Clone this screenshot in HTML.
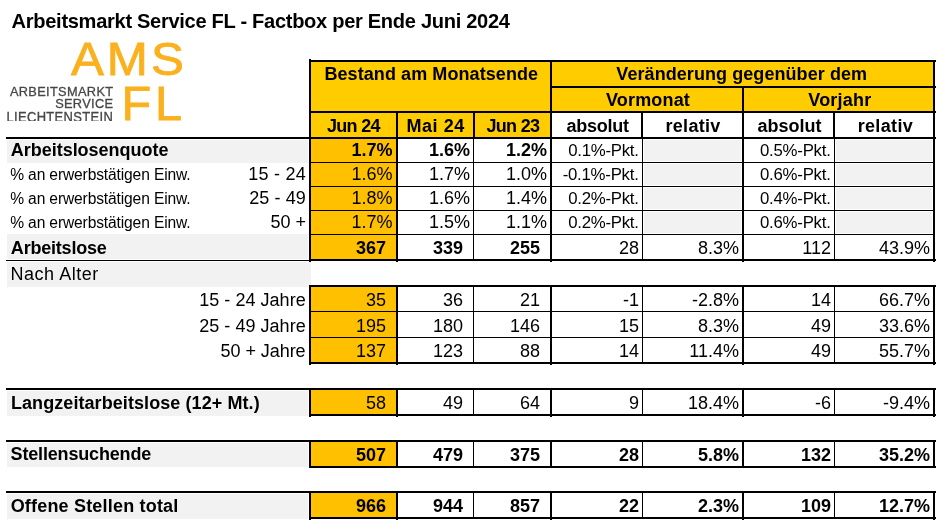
<!DOCTYPE html>
<html lang="de">
<head>
<meta charset="utf-8">
<title>Arbeitsmarkt Service FL - Factbox per Ende Juni 2024</title>
<style>
html,body{margin:0;padding:0;background:#fff}
body{width:945px;height:529px;position:relative;overflow:hidden;font-family:"Liberation Sans", sans-serif;color:#000}
.f,.l,.t{position:absolute;display:block}
.l{background:#000}
.t{white-space:pre;line-height:24px;height:24px;margin:0;font-weight:400}
.b{font-weight:700}
.logo{position:absolute;left:0;top:34px;width:200px;height:87px;overflow:hidden}
.logo span{position:absolute;display:block;white-space:pre;line-height:1}
.lg{color:#FBB01E;font-size:47px;-webkit-text-stroke:0.8px #FBB01E;transform-origin:0 0}
.ls{color:#474749;font-size:12.8px;right:86.6px;text-align:right;letter-spacing:0.33px;-webkit-text-stroke:0.3px #474749}
</style>
</head>
<body>
<div class="f" style="left:311px;top:62px;width:239px;height:49px;background:#FFCC00"></div>
<div class="f" style="left:552px;top:62px;width:381px;height:24px;background:#FFCC00"></div>
<div class="f" style="left:552px;top:88px;width:190px;height:23px;background:#FFCC00"></div>
<div class="f" style="left:744px;top:88px;width:189px;height:23px;background:#FFCC00"></div>
<div class="f" style="left:311px;top:113px;width:239px;height:24px;background:#FFCC00"></div>
<div class="f" style="left:311px;top:139px;width:85px;height:120px;background:#FFC000"></div>
<div class="f" style="left:311px;top:287px;width:85px;height:75px;background:#FFC000"></div>
<div class="f" style="left:311px;top:390px;width:85px;height:24px;background:#FFC000"></div>
<div class="f" style="left:311px;top:442px;width:85px;height:24px;background:#FFC000"></div>
<div class="f" style="left:311px;top:493px;width:85px;height:24px;background:#FFC000"></div>
<div class="f" style="left:7px;top:140px;width:301px;height:23px;background:#F2F2F2"></div>
<div class="f" style="left:7px;top:234px;width:301px;height:25px;background:#F2F2F2"></div>
<div class="f" style="left:7px;top:262px;width:304px;height:25px;background:#F2F2F2"></div>
<div class="f" style="left:7px;top:391px;width:301px;height:25px;background:#F2F2F2"></div>
<div class="f" style="left:7px;top:443px;width:301px;height:24px;background:#F2F2F2"></div>
<div class="f" style="left:7px;top:494px;width:301px;height:25px;background:#F2F2F2"></div>
<div class="f" style="left:644px;top:140px;width:97px;height:21px;background:#F2F2F2"></div>
<div class="f" style="left:836px;top:140px;width:96px;height:21px;background:#F2F2F2"></div>
<div class="f" style="left:644px;top:164px;width:97px;height:21px;background:#F2F2F2"></div>
<div class="f" style="left:836px;top:164px;width:96px;height:21px;background:#F2F2F2"></div>
<div class="f" style="left:644px;top:188px;width:97px;height:21px;background:#F2F2F2"></div>
<div class="f" style="left:836px;top:188px;width:96px;height:21px;background:#F2F2F2"></div>
<div class="f" style="left:644px;top:212px;width:97px;height:21px;background:#F2F2F2"></div>
<div class="f" style="left:836px;top:212px;width:96px;height:21px;background:#F2F2F2"></div>
<div class="l" style="left:309px;top:60px;width:627px;height:2px"></div>
<div class="l" style="left:550px;top:86px;width:386px;height:2px"></div>
<div class="l" style="left:309px;top:111px;width:627px;height:2px"></div>
<div class="l" style="left:6px;top:137px;width:930px;height:2px"></div>
<div class="l" style="left:311px;top:162px;width:623px;height:1px"></div>
<div class="l" style="left:311px;top:186px;width:623px;height:1px"></div>
<div class="l" style="left:311px;top:210px;width:623px;height:1px"></div>
<div class="l" style="left:311px;top:234px;width:623px;height:1px"></div>
<div class="l" style="left:309px;top:259px;width:627px;height:2px"></div>
<div class="l" style="left:6px;top:260px;width:304px;height:1px"></div>
<div class="l" style="left:309px;top:285px;width:627px;height:2px"></div>
<div class="l" style="left:311px;top:311px;width:623px;height:1px"></div>
<div class="l" style="left:311px;top:337px;width:623px;height:1px"></div>
<div class="l" style="left:309px;top:362px;width:627px;height:2px"></div>
<div class="l" style="left:6px;top:388px;width:930px;height:2px"></div>
<div class="l" style="left:309px;top:414px;width:627px;height:2px"></div>
<div class="l" style="left:6px;top:440px;width:930px;height:2px"></div>
<div class="l" style="left:309px;top:466px;width:627px;height:2px"></div>
<div class="l" style="left:6px;top:491px;width:930px;height:2px"></div>
<div class="l" style="left:309px;top:517px;width:627px;height:2px"></div>
<div class="l" style="left:309px;top:59px;width:2px;height:203px"></div>
<div class="l" style="left:933px;top:60px;width:2px;height:202px"></div>
<div class="l" style="left:396px;top:111px;width:2px;height:151px"></div>
<div class="l" style="left:550px;top:60px;width:2px;height:202px"></div>
<div class="l" style="left:742px;top:86px;width:2px;height:176px"></div>
<div class="l" style="left:473px;top:139px;width:1px;height:122px"></div>
<div class="l" style="left:642px;top:139px;width:1px;height:122px"></div>
<div class="l" style="left:834px;top:139px;width:1px;height:122px"></div>
<div class="l" style="left:309px;top:285px;width:2px;height:80px"></div>
<div class="l" style="left:933px;top:285px;width:2px;height:80px"></div>
<div class="l" style="left:396px;top:285px;width:2px;height:80px"></div>
<div class="l" style="left:550px;top:285px;width:2px;height:80px"></div>
<div class="l" style="left:742px;top:285px;width:2px;height:80px"></div>
<div class="l" style="left:473px;top:285px;width:1px;height:79px"></div>
<div class="l" style="left:642px;top:285px;width:1px;height:79px"></div>
<div class="l" style="left:834px;top:285px;width:1px;height:79px"></div>
<div class="l" style="left:309px;top:388px;width:2px;height:29px"></div>
<div class="l" style="left:933px;top:388px;width:2px;height:29px"></div>
<div class="l" style="left:396px;top:388px;width:2px;height:29px"></div>
<div class="l" style="left:550px;top:388px;width:2px;height:29px"></div>
<div class="l" style="left:742px;top:388px;width:2px;height:29px"></div>
<div class="l" style="left:473px;top:388px;width:1px;height:28px"></div>
<div class="l" style="left:642px;top:388px;width:1px;height:28px"></div>
<div class="l" style="left:834px;top:388px;width:1px;height:28px"></div>
<div class="l" style="left:309px;top:440px;width:2px;height:28px"></div>
<div class="l" style="left:933px;top:440px;width:2px;height:28px"></div>
<div class="l" style="left:396px;top:440px;width:2px;height:28px"></div>
<div class="l" style="left:550px;top:440px;width:2px;height:28px"></div>
<div class="l" style="left:742px;top:440px;width:2px;height:28px"></div>
<div class="l" style="left:473px;top:440px;width:1px;height:28px"></div>
<div class="l" style="left:642px;top:440px;width:1px;height:28px"></div>
<div class="l" style="left:834px;top:440px;width:1px;height:28px"></div>
<div class="l" style="left:309px;top:491px;width:2px;height:29px"></div>
<div class="l" style="left:933px;top:491px;width:2px;height:29px"></div>
<div class="l" style="left:396px;top:491px;width:2px;height:29px"></div>
<div class="l" style="left:550px;top:491px;width:2px;height:29px"></div>
<div class="l" style="left:742px;top:491px;width:2px;height:29px"></div>
<div class="l" style="left:473px;top:491px;width:1px;height:28px"></div>
<div class="l" style="left:642px;top:491px;width:1px;height:28px"></div>
<div class="l" style="left:834px;top:491px;width:1px;height:28px"></div>
<div class="l" style="left:473px;top:111px;width:2px;height:28px"></div>
<div class="l" style="left:641px;top:111px;width:2px;height:28px"></div>
<div class="l" style="left:833px;top:111px;width:2px;height:28px"></div>
<div class="logo">
<span class="lg" style="left:70.8px;top:0.5px;letter-spacing:2.8px;transform:scaleX(1.05)">AMS</span>
<span class="lg" style="left:121.4px;top:44.6px;letter-spacing:4px;font-size:48.6px">FL</span>
<span class="ls" style="top:51.9px">ARBEITSMARKT</span>
<span class="ls" style="top:63.9px">SERVICE</span>
<span class="ls" style="top:77.2px;transform-origin:100% 0;transform:scale(1.015,1.1)">LIECHTENSTEIN</span>
</div>
<span class="t b" style="left:11.60px;top:8.98px;font-size:20.07px;letter-spacing:-0.30px;">Arbeitsmarkt Service FL - Factbox per Ende Juni 2024</span>
<span class="t b" style="left:324.42px;top:61.95px;font-size:18.00px;letter-spacing:0.08px;">Bestand am Monatsende</span>
<span class="t b" style="left:616.33px;top:61.95px;font-size:18.00px;letter-spacing:0.07px;">Veränderung gegenüber dem</span>
<span class="t b" style="left:605.97px;top:87.95px;font-size:18.00px;letter-spacing:0.17px;">Vormonat</span>
<span class="t b" style="left:808.23px;top:87.95px;font-size:18.00px;letter-spacing:0.24px;">Vorjahr</span>
<span class="t b" style="left:326.88px;top:113.95px;font-size:18.00px;letter-spacing:-0.68px;">Jun 24</span>
<span class="t b" style="left:406.48px;top:113.95px;font-size:18.00px;letter-spacing:0.56px;">Mai 24</span>
<span class="t b" style="left:486.49px;top:113.95px;font-size:18.00px;letter-spacing:-0.70px;">Jun 23</span>
<span class="t b" style="left:566.38px;top:113.95px;font-size:18.00px;letter-spacing:-0.23px;">absolut</span>
<span class="t b" style="left:665.48px;top:113.95px;font-size:18.00px;letter-spacing:0.30px;">relativ</span>
<span class="t b" style="left:757.49px;top:113.95px;font-size:18.00px;">absolut</span>
<span class="t b" style="left:857.66px;top:113.95px;font-size:18.00px;letter-spacing:0.34px;">relativ</span>
<span class="t b" style="left:10.75px;top:137.95px;font-size:18.00px;letter-spacing:-0.02px;">Arbeitslosenquote</span>
<span class="t b" style="left:351.47px;top:137.95px;font-size:18.00px;">1.7%</span>
<span class="t b" style="left:428.97px;top:137.95px;font-size:18.00px;">1.6%</span>
<span class="t b" style="left:505.97px;top:137.95px;font-size:18.00px;">1.2%</span>
<span class="t" style="left:568.18px;top:138.99px;font-size:16.80px;letter-spacing:-0.26px;">0.1%-Pkt.</span>
<span class="t" style="left:760.02px;top:138.99px;font-size:16.80px;letter-spacing:-0.24px;">0.5%-Pkt.</span>
<span class="t" style="left:10.20px;top:163.03px;font-size:15.60px;letter-spacing:-0.14px;">% an erwerbstätigen Einw.</span>
<span class="t" style="left:248.36px;top:161.95px;font-size:18.00px;letter-spacing:0.24px;">15 - 24</span>
<span class="t" style="left:351.47px;top:161.95px;font-size:18.00px;">1.6%</span>
<span class="t" style="left:428.97px;top:161.95px;font-size:18.00px;">1.7%</span>
<span class="t" style="left:505.97px;top:161.95px;font-size:18.00px;">1.0%</span>
<span class="t" style="left:562.67px;top:162.99px;font-size:16.80px;letter-spacing:-0.24px;">-0.1%-Pkt.</span>
<span class="t" style="left:760.02px;top:162.99px;font-size:16.80px;letter-spacing:-0.24px;">0.6%-Pkt.</span>
<span class="t" style="left:10.20px;top:187.03px;font-size:15.60px;letter-spacing:-0.14px;">% an erwerbstätigen Einw.</span>
<span class="t" style="left:249.27px;top:185.95px;font-size:18.00px;letter-spacing:0.09px;">25 - 49</span>
<span class="t" style="left:351.47px;top:185.95px;font-size:18.00px;">1.8%</span>
<span class="t" style="left:428.97px;top:185.95px;font-size:18.00px;">1.6%</span>
<span class="t" style="left:505.97px;top:185.95px;font-size:18.00px;">1.4%</span>
<span class="t" style="left:568.18px;top:186.99px;font-size:16.80px;letter-spacing:-0.26px;">0.2%-Pkt.</span>
<span class="t" style="left:760.02px;top:186.99px;font-size:16.80px;letter-spacing:-0.24px;">0.4%-Pkt.</span>
<span class="t" style="left:10.20px;top:211.03px;font-size:15.60px;letter-spacing:-0.14px;">% an erwerbstätigen Einw.</span>
<span class="t" style="left:270.45px;top:209.95px;font-size:18.00px;">50 +</span>
<span class="t" style="left:351.47px;top:209.95px;font-size:18.00px;">1.7%</span>
<span class="t" style="left:428.97px;top:209.95px;font-size:18.00px;">1.5%</span>
<span class="t" style="left:505.97px;top:209.95px;font-size:18.00px;">1.1%</span>
<span class="t" style="left:568.18px;top:210.99px;font-size:16.80px;letter-spacing:-0.26px;">0.2%-Pkt.</span>
<span class="t" style="left:760.02px;top:210.99px;font-size:16.80px;letter-spacing:-0.24px;">0.6%-Pkt.</span>
<span class="t b" style="left:10.85px;top:235.95px;font-size:18.00px;letter-spacing:-0.21px;">Arbeitslose</span>
<span class="t b" style="left:355.95px;top:235.95px;font-size:18.00px;">367</span>
<span class="t b" style="left:432.95px;top:235.95px;font-size:18.00px;">339</span>
<span class="t b" style="left:509.95px;top:235.95px;font-size:18.00px;">255</span>
<span class="t" style="left:618.97px;top:235.95px;font-size:18.00px;">28</span>
<span class="t" style="left:697.97px;top:235.95px;font-size:18.00px;">8.3%</span>
<span class="t" style="left:802.30px;top:235.95px;font-size:18.00px;">112</span>
<span class="t" style="left:878.95px;top:235.95px;font-size:18.00px;">43.9%</span>
<span class="t" style="left:10.45px;top:261.95px;font-size:18.00px;letter-spacing:0.54px;">Nach Alter</span>
<span class="t" style="left:199.26px;top:287.95px;font-size:18.00px;letter-spacing:0.03px;">15 - 24 Jahre</span>
<span class="t" style="left:365.97px;top:287.95px;font-size:18.00px;">35</span>
<span class="t" style="left:442.97px;top:287.95px;font-size:18.00px;">36</span>
<span class="t" style="left:519.97px;top:287.95px;font-size:18.00px;">21</span>
<span class="t" style="left:622.98px;top:287.95px;font-size:18.00px;">-1</span>
<span class="t" style="left:691.97px;top:287.95px;font-size:18.00px;">-2.8%</span>
<span class="t" style="left:810.97px;top:287.95px;font-size:18.00px;">14</span>
<span class="t" style="left:878.95px;top:287.95px;font-size:18.00px;">66.7%</span>
<span class="t" style="left:199.26px;top:313.95px;font-size:18.00px;letter-spacing:0.03px;">25 - 49 Jahre</span>
<span class="t" style="left:355.95px;top:313.95px;font-size:18.00px;">195</span>
<span class="t" style="left:432.95px;top:313.95px;font-size:18.00px;">180</span>
<span class="t" style="left:509.95px;top:313.95px;font-size:18.00px;">146</span>
<span class="t" style="left:618.97px;top:313.95px;font-size:18.00px;">15</span>
<span class="t" style="left:697.97px;top:313.95px;font-size:18.00px;">8.3%</span>
<span class="t" style="left:810.97px;top:313.95px;font-size:18.00px;">49</span>
<span class="t" style="left:878.95px;top:313.95px;font-size:18.00px;">33.6%</span>
<span class="t" style="left:220.62px;top:338.95px;font-size:18.00px;letter-spacing:-0.06px;">50 + Jahre</span>
<span class="t" style="left:355.95px;top:338.95px;font-size:18.00px;">137</span>
<span class="t" style="left:432.95px;top:338.95px;font-size:18.00px;">123</span>
<span class="t" style="left:519.97px;top:338.95px;font-size:18.00px;">88</span>
<span class="t" style="left:618.97px;top:338.95px;font-size:18.00px;">14</span>
<span class="t" style="left:689.30px;top:338.95px;font-size:18.00px;">11.4%</span>
<span class="t" style="left:810.97px;top:338.95px;font-size:18.00px;">49</span>
<span class="t" style="left:878.95px;top:338.95px;font-size:18.00px;">55.7%</span>
<span class="t b" style="left:10.90px;top:390.95px;font-size:18.00px;letter-spacing:0.08px;">Langzeitarbeitslose (12+ Mt.)</span>
<span class="t" style="left:365.97px;top:390.95px;font-size:18.00px;">58</span>
<span class="t" style="left:442.97px;top:390.95px;font-size:18.00px;">49</span>
<span class="t" style="left:519.97px;top:390.95px;font-size:18.00px;">64</span>
<span class="t" style="left:628.98px;top:390.95px;font-size:18.00px;">9</span>
<span class="t" style="left:687.95px;top:390.95px;font-size:18.00px;">18.4%</span>
<span class="t" style="left:814.98px;top:390.95px;font-size:18.00px;">-6</span>
<span class="t" style="left:882.97px;top:390.95px;font-size:18.00px;">-9.4%</span>
<span class="t b" style="left:10.60px;top:441.95px;font-size:18.00px;letter-spacing:-0.17px;">Stellensuchende</span>
<span class="t b" style="left:355.95px;top:442.95px;font-size:18.00px;">507</span>
<span class="t b" style="left:432.95px;top:442.95px;font-size:18.00px;">479</span>
<span class="t b" style="left:509.95px;top:442.95px;font-size:18.00px;">375</span>
<span class="t b" style="left:618.97px;top:442.95px;font-size:18.00px;">28</span>
<span class="t b" style="left:697.97px;top:442.95px;font-size:18.00px;">5.8%</span>
<span class="t b" style="left:800.95px;top:442.95px;font-size:18.00px;">132</span>
<span class="t b" style="left:878.95px;top:442.95px;font-size:18.00px;">35.2%</span>
<span class="t b" style="left:10.65px;top:493.95px;font-size:18.00px;letter-spacing:0.19px;">Offene Stellen total</span>
<span class="t b" style="left:355.95px;top:493.95px;font-size:18.00px;">966</span>
<span class="t b" style="left:432.95px;top:493.95px;font-size:18.00px;">944</span>
<span class="t b" style="left:509.95px;top:493.95px;font-size:18.00px;">857</span>
<span class="t b" style="left:618.97px;top:493.95px;font-size:18.00px;">22</span>
<span class="t b" style="left:697.97px;top:493.95px;font-size:18.00px;">2.3%</span>
<span class="t b" style="left:800.95px;top:493.95px;font-size:18.00px;">109</span>
<span class="t b" style="left:878.95px;top:493.95px;font-size:18.00px;">12.7%</span>
</body>
</html>
